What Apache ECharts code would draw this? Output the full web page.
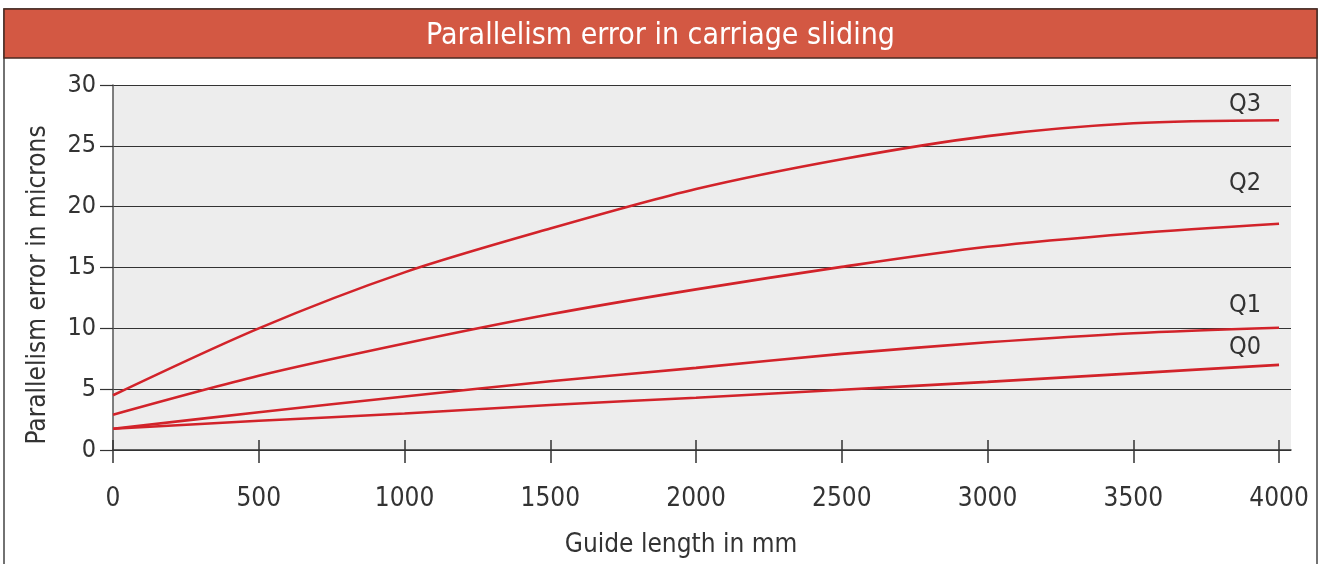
<!DOCTYPE html>
<html>
<head>
<meta charset="utf-8">
<script src="https://cdn.jsdelivr.net/npm/echarts@6/dist/echarts.min.js"></script>
<style>
  html, body { margin: 0; padding: 0; background: #fff; }
  #chart { width: 1321px; height: 564px; }
</style>
</head>
<body>
<div id="chart"></div>
<script>
// guide length (mm) and parallelism error (microns)
const lengths = [0, 500, 1000, 1500, 2000, 2500, 3000, 3500, 4000];
const q0 = [1.75, 2.4, 3.0, 3.7, 4.3, 4.95, 5.6, 6.3, 7.0];
const q1 = [1.75, 3.1, 4.4, 5.65, 6.75, 7.9, 8.85, 9.6, 10.05];
const q2 = [2.9, 6.1, 8.75, 11.15, 13.2, 15.05, 16.7, 17.8, 18.6];
const q3 = [4.5, 10.0, 14.6, 18.2, 21.45, 23.9, 25.8, 26.85, 27.1];
const seriesNames = ['Q0', 'Q1', 'Q2', 'Q3'];
const xTicks = [0, 500, 1000, 1500, 2000, 2500, 3000, 3500, 4000];

const FONT = '"Liberation Sans Narrow", "DejaVu Sans Condensed", sans-serif';
const RED = '#d2232a';
const INK = '#333';

const chart = echarts.init(document.getElementById('chart'));

// end label offsets so the names sit above the line ends
const labelOffsets = { Q0: [-58, -17], Q1: [-58, -22], Q2: [-58, -40], Q3: [-58, -16] };

function makeSeries(name, values) {
  return {
    name: name,
    type: 'line',
    smooth: 0.3,
    symbol: 'none',
    data: lengths.map((x, i) => [x, values[i]]),
    lineStyle: { color: RED, width: 2.6 },
    endLabel: {
      show: true,
      formatter: '{a}',
      offset: labelOffsets[name],
      color: INK,
      fontFamily: FONT,
      fontSize: 25
    },
    z: 5
  };
}

const option = {
  animation: false,
  backgroundColor: '#fff',
  title: {
    text: 'Parallelism error in carriage sliding',
    left: 'center',
    top: 16,
    textStyle: { color: '#fff', fontFamily: FONT, fontSize: 30, fontWeight: 'normal' }
  },
  graphic: [
    {
      type: 'rect',
      shape: { x: 4, y: 9, width: 1313, height: 600 },
      style: { fill: 'none', stroke: '#444', lineWidth: 1.5 },
      z: 0
    },
    {
      type: 'rect',
      shape: { x: 4, y: 9, width: 1313, height: 49 },
      style: { fill: '#d35843', stroke: '#4a2a22', lineWidth: 1.5 },
      z: 0
    }
  ],
  grid: {
    left: 113,
    right: 30,
    top: 85,
    bottom: 114,
    show: true,
    backgroundColor: '#ededed',
    borderWidth: 0
  },
  xAxis: [
    {
      type: 'value',
      min: 0,
      max: 4041,
      interval: 500,
      name: 'Guide length in mm',
      nameLocation: 'middle',
      nameGap: 82,
      nameTextStyle: { color: INK, fontFamily: FONT, fontSize: 26, padding: [0, 42, 0, 0] },
      axisLine: { show: true, onZero: false, lineStyle: { color: INK, width: 1.5 } },
      axisTick: { show: true, length: 13, customValues: xTicks, lineStyle: { color: INK, width: 1.5 } },
      axisLabel: {
        customValues: xTicks,
        margin: 36,
        color: INK,
        fontFamily: FONT,
        fontSize: 26,
        formatter: v => String(v)
      },
      splitLine: { show: false }
    },
    {
      type: 'value',
      min: 0,
      max: 4041,
      interval: 500,
      position: 'bottom',
      axisLine: { show: false },
      axisTick: { show: true, inside: true, length: 10, customValues: xTicks, lineStyle: { color: INK, width: 1.5 } },
      axisLabel: { show: false },
      splitLine: { show: false }
    }
  ],
  yAxis: {
    type: 'value',
    min: 0,
    max: 30,
    interval: 5,
    name: 'Parallelism error in microns',
    nameLocation: 'middle',
    nameGap: 62,
    nameTextStyle: { color: INK, fontFamily: FONT, fontSize: 26, padding: [0, 35, 0, 0] },
    axisLine: { show: true, lineStyle: { color: '#555', width: 1.5 } },
    axisTick: { show: true, length: 13, lineStyle: { color: INK, width: 1.2 } },
    axisLabel: { margin: 17, color: INK, fontFamily: FONT, fontSize: 25 },
    splitLine: { show: true, lineStyle: { color: INK, width: 1.2 } }
  },
  series: [
    makeSeries(seriesNames[0], q0),
    makeSeries(seriesNames[1], q1),
    makeSeries(seriesNames[2], q2),
    makeSeries(seriesNames[3], q3)
  ]
};

chart.setOption(option);
</script>
</body>
</html>
